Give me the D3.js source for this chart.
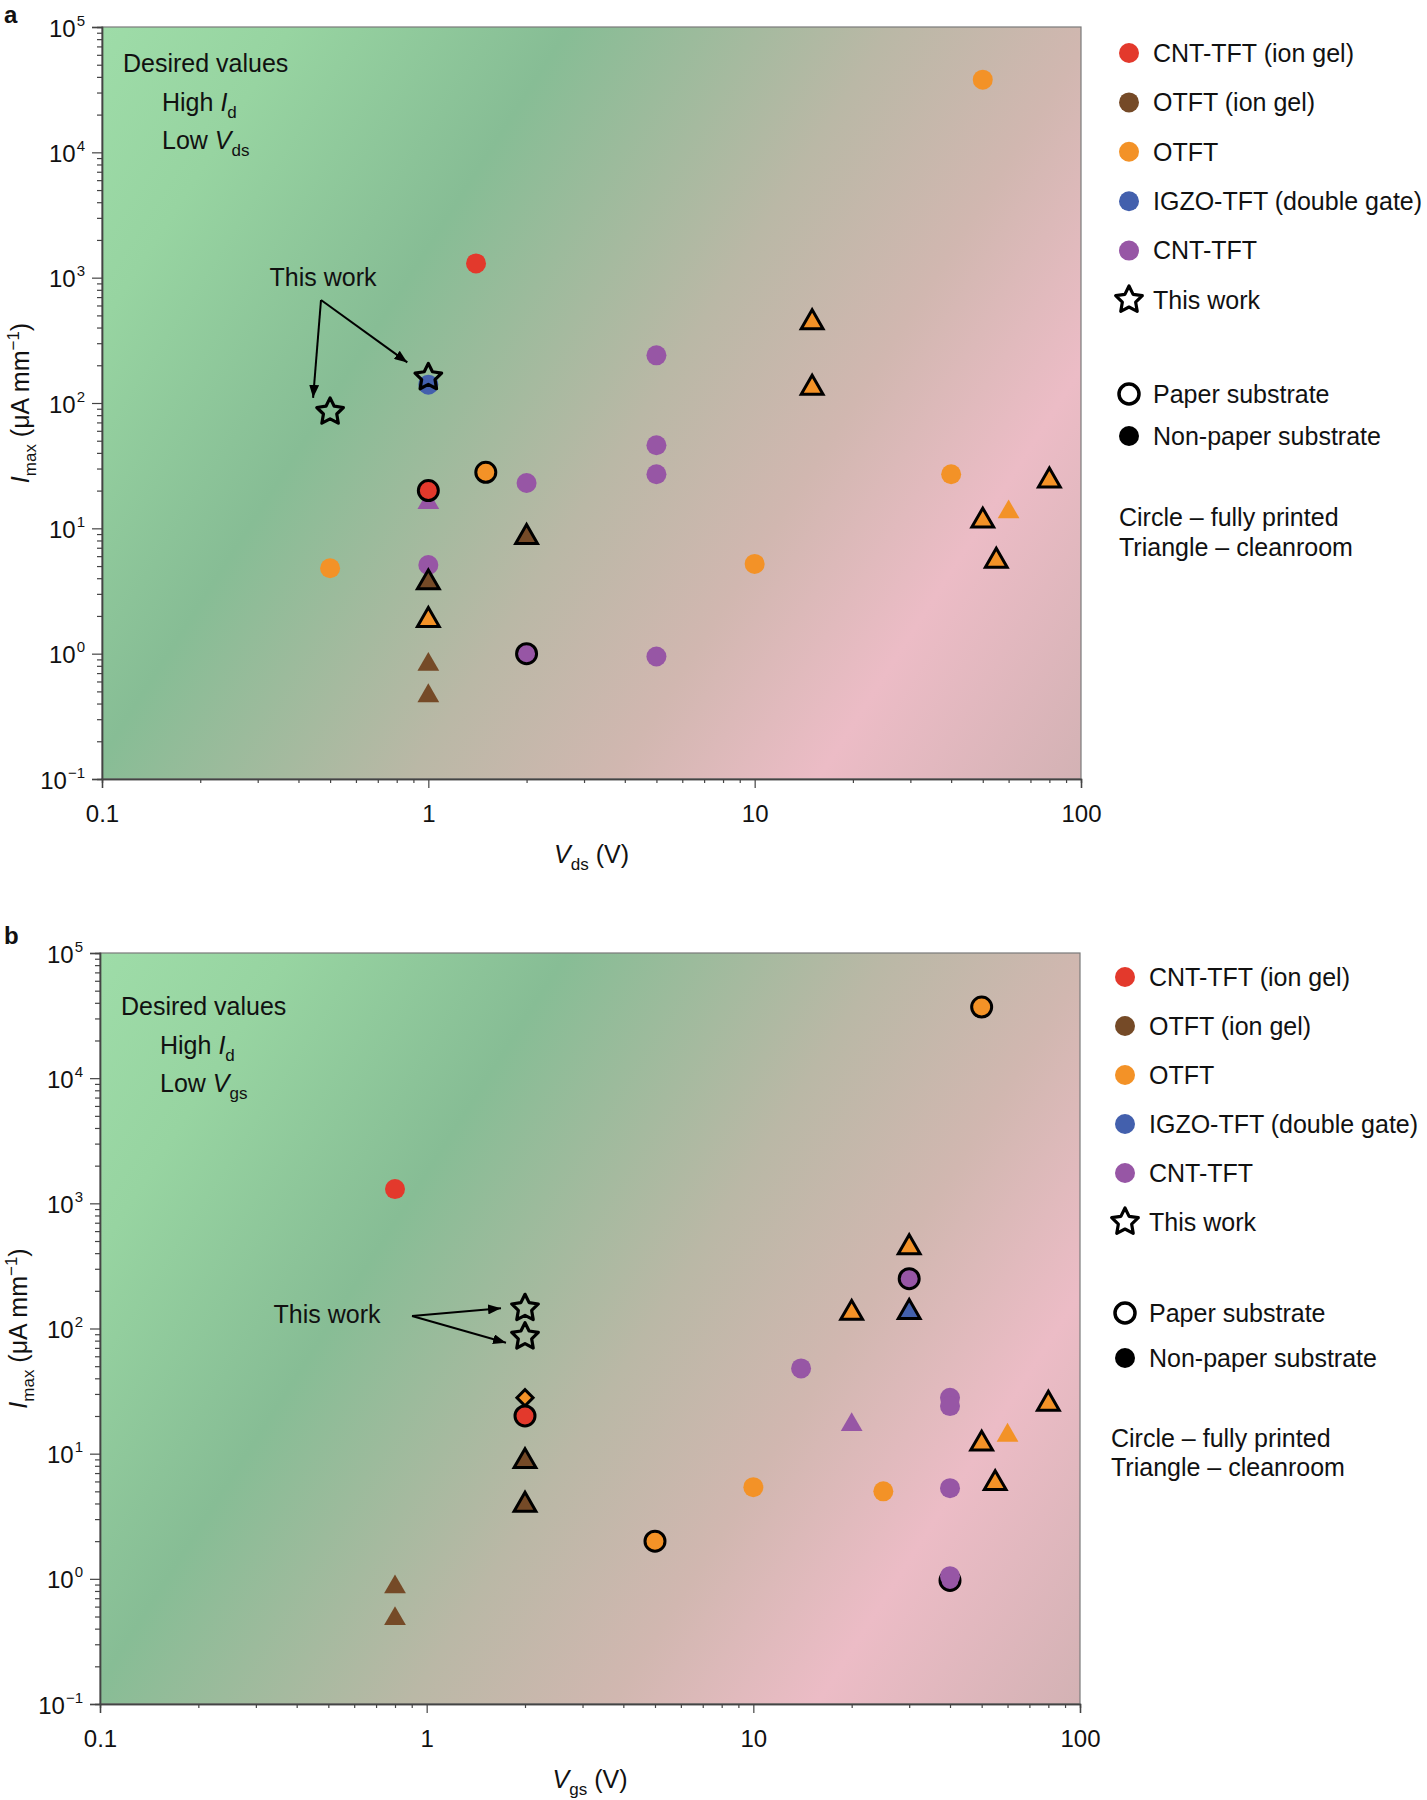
<!DOCTYPE html>
<html>
<head>
<meta charset="utf-8">
<script src="https://cdn.jsdelivr.net/npm/d3@7"></script>
<style>
  body { margin: 0; background: #fff; }
  svg text { font-family: "Liberation Sans", Arial, Helvetica, sans-serif; fill: #111; }
</style>
</head>
<body>
<svg id="fig" width="1427" height="1800"></svg>
<script>
// categories and colours
const groups = ["CNT-TFT (ion gel)", "OTFT (ion gel)", "OTFT", "IGZO-TFT (double gate)", "CNT-TFT"];
const groupColors = ["#e3392c", "#754a27", "#f39227", "#4360ad", "#9756a5"];
const xTicks = [0.1, 1, 10, 100];
const yTicks = [0.1, 1, 10, 100, 1000, 10000, 100000];

// [V, Imax, group index, shape (c circle / t triangle / d diamond), paper substrate]
const pointsA = [
  [1.4, 1300, 0, "c", 0],
  [1, 140, 3, "c", 0],
  [1.5, 28, 2, "c", 1],
  [2, 23, 4, "c", 0],
  [1, 16, 4, "t", 0],
  [1, 20, 0, "c", 1],
  [2, 8.5, 1, "t", 1],
  [0.5, 4.8, 2, "c", 0],
  [1, 5.1, 4, "c", 0],
  [1, 3.7, 1, "t", 1],
  [1, 1.85, 2, "t", 1],
  [2, 1.0, 4, "c", 1],
  [1, 0.82, 1, "t", 0],
  [1, 0.46, 1, "t", 0],
  [5, 240, 4, "c", 0],
  [5, 46, 4, "c", 0],
  [5, 27, 4, "c", 0],
  [5, 0.95, 4, "c", 0],
  [10, 5.2, 2, "c", 0],
  [15, 440, 2, "t", 1],
  [15, 132, 2, "t", 1],
  [40, 27, 2, "c", 0],
  [50, 38000, 2, "c", 0],
  [50, 11.5, 2, "t", 1],
  [55, 5.5, 2, "t", 1],
  [60, 13.5, 2, "t", 0],
  [80, 24, 2, "t", 1]
];
const starsA = [[0.5, 85], [1, 160]];

const pointsB = [
  [0.8, 1300, 0, "c", 0],
  [0.8, 0.86, 1, "t", 0],
  [0.8, 0.48, 1, "t", 0],
  [2, 28, 2, "d", 1],
  [2, 20, 0, "c", 1],
  [2, 8.7, 1, "t", 1],
  [2, 3.9, 1, "t", 1],
  [5, 2.0, 2, "c", 1],
  [10, 5.4, 2, "c", 0],
  [14, 48, 4, "c", 0],
  [20, 133, 2, "t", 1],
  [20, 17, 4, "t", 0],
  [25, 5, 2, "c", 0],
  [30, 445, 2, "t", 1],
  [30, 250, 4, "c", 1],
  [30, 135, 3, "t", 1],
  [40, 28, 4, "c", 0],
  [40, 24, 4, "c", 0],
  [40, 5.3, 4, "c", 0],
  [40, 0.97, 4, "c", 1],
  [40, 1.05, 4, "c", 0],
  [50, 37000, 2, "c", 1],
  [50, 12, 2, "t", 1],
  [55, 5.8, 2, "t", 1],
  [60, 14, 2, "t", 0],
  [80, 25, 2, "t", 1]
];
const starsB = [[2, 145], [2, 86]];

// background wash: light green -> green -> beige -> pink -> dusty pink
const bgStops = [[0, "#9edca8"], [0.13, "#97d4a1"], [0.32, "#87bd95"], [0.54, "#bab8a6"],
                 [0.68, "#d1b7b0"], [0.82, "#ecbcc6"], [1, "#d3b2b4"]];

const svg = d3.select("#fig");
const defs = svg.append("defs");

defs.append("marker")
    .attr("id", "arrowhead")
    .attr("viewBox", "0 0 13 10")
    .attr("refX", 13).attr("refY", 5)
    .attr("markerWidth", 13).attr("markerHeight", 10)
    .attr("markerUnits", "userSpaceOnUse")
    .attr("orient", "auto")
  .append("path")
    .attr("d", "M0,0 L13,5 L0,10 z")
    .attr("fill", "#000");

// chunky five point star, size = outer radius squared
const fatStar = {
    draw(context, size) {
        const R = Math.sqrt(size), r = R * 0.5;
        for (let i = 0; i < 10; i++) {
            const a = -Math.PI / 2 + i * Math.PI / 5;
            const rad = i % 2 ? r : R;
            if (i === 0) context.moveTo(rad * Math.cos(a), rad * Math.sin(a));
            else context.lineTo(rad * Math.cos(a), rad * Math.sin(a));
        }
        context.closePath();
    }
};

const symbolTypes = {c: d3.symbolCircle, t: d3.symbolTriangle, d: d3.symbolSquare};
const symbolSizes = {c: 314, t: 205, d: 130};

const isDecade = v => Math.abs(Math.log10(v) - Math.round(Math.log10(v))) < 1e-6;

function drawPanel(cfg, points, stars) {
    const x = d3.scaleLog().domain([0.1, 100]).range([cfg.left, cfg.right]);
    const y = d3.scaleLog().domain([0.1, 100000]).range([cfg.bottom, cfg.top]);
    const g = svg.append("g");
    const W = cfg.right - cfg.left, H = cfg.bottom - cfg.top;

    // diagonal gradient background
    const k = 0.64;
    const s = (W + k * H) / (1 + k * k);
    const grad = defs.append("linearGradient")
        .attr("id", "bg" + cfg.id)
        .attr("gradientUnits", "userSpaceOnUse")
        .attr("x1", cfg.left).attr("y1", cfg.top)
        .attr("x2", cfg.left + s).attr("y2", cfg.top + k * s);
    grad.selectAll("stop").data(bgStops).enter().append("stop")
        .attr("offset", d => d[0])
        .attr("stop-color", d => d[1]);

    g.append("rect")
        .attr("x", cfg.left).attr("y", cfg.top)
        .attr("width", W).attr("height", H)
        .attr("fill", "url(#bg" + cfg.id + ")")
        .attr("stroke", "#7a7a7a")
        .attr("stroke-width", 1.2);

    // axes
    const yMinor = y.ticks().filter(v => !isDecade(v));
    const xMinor = x.ticks().filter(v => !isDecade(v));

    const yMin = g.append("g").attr("transform", "translate(" + cfg.left + ",0)")
        .call(d3.axisLeft(y).tickValues(yMinor).tickSize(5).tickFormat(""));
    const yMaj = g.append("g").attr("transform", "translate(" + cfg.left + ",0)")
        .call(d3.axisLeft(y).tickValues(yTicks).tickSize(10).tickPadding(8).tickFormat(() => ""));
    const xMin = g.append("g").attr("transform", "translate(0," + cfg.bottom + ")")
        .call(d3.axisBottom(x).tickValues(xMinor).tickSize(4).tickFormat(""));
    const xMaj = g.append("g").attr("transform", "translate(0," + cfg.bottom + ")")
        .call(d3.axisBottom(x).tickValues(xTicks).tickSize(9).tickFormat(d3.format("~g")));

    [yMin, yMaj, xMin, xMaj].forEach(a => {
        a.select(".domain").attr("stroke", "#444").attr("stroke-width", 1.4);
        a.selectAll(".tick line").attr("stroke", "#444").attr("stroke-width", 1.2);
    });

    yMaj.selectAll(".tick text").each(function(d) {
        const t = d3.select(this)
            .attr("x", -17).attr("dy", "0.38em")
            .style("font-size", "24px").attr("fill", "#111");
        t.append("tspan").text("10");
        t.append("tspan")
            .attr("dy", -11).attr("dx", 1)
            .style("font-size", "15px")
            .text(String(Math.round(Math.log10(d))).replace("-", "\u2212"));
    });
    xMaj.selectAll(".tick text")
        .attr("y", 43).attr("dy", 0)
        .style("font-size", "24px").attr("fill", "#111");

    // axis titles
    const xt = g.append("text")
        .attr("x", (cfg.left + cfg.right) / 2)
        .attr("y", cfg.bottom + 84)
        .attr("text-anchor", "middle")
        .style("font-size", "25px");
    xt.append("tspan").attr("font-style", "italic").text("V");
    xt.append("tspan").attr("dy", 7).style("font-size", "17px").text(cfg.xSub);
    xt.append("tspan").attr("dy", -7).text(" (V)");

    const yt = g.append("text")
        .attr("transform", "translate(" + (cfg.left - 73) + "," + ((cfg.top + cfg.bottom) / 2) + ") rotate(-90)")
        .attr("text-anchor", "middle")
        .style("font-size", "25px");
    yt.append("tspan").attr("font-style", "italic").text("I");
    yt.append("tspan").attr("dy", 7).style("font-size", "17px").text("max");
    yt.append("tspan").attr("dy", -7).text(" (\u03bcA mm");
    yt.append("tspan").attr("dy", -10).style("font-size", "17px").text("\u22121");
    yt.append("tspan").attr("dy", 10).text(")");

    // panel letter
    g.append("text")
        .attr("x", 4).attr("y", cfg.letterY)
        .style("font-size", "24px").style("font-weight", "bold")
        .text(cfg.id);

    // desired values note
    const nx = cfg.left + 21;
    g.append("text").attr("x", nx).attr("y", cfg.noteY)
        .style("font-size", "25px").text("Desired values");
    const hi = g.append("text").attr("x", nx + 39).attr("y", cfg.noteY + 39).style("font-size", "25px");
    hi.append("tspan").text("High ");
    hi.append("tspan").attr("font-style", "italic").text("I");
    hi.append("tspan").attr("dy", 7).style("font-size", "17px").text("d");
    const lo = g.append("text").attr("x", nx + 39).attr("y", cfg.noteY + 77).style("font-size", "25px");
    lo.append("tspan").text("Low ");
    lo.append("tspan").attr("font-style", "italic").text("V");
    lo.append("tspan").attr("dy", 7).style("font-size", "17px").text(cfg.xSub);

    // data points
    g.append("g").selectAll("path")
        .data(points)
        .enter().append("path")
        .attr("d", d => d3.symbol().type(symbolTypes[d[3]]).size(symbolSizes[d[3]])())
        .attr("transform", d => "translate(" + x(d[0]) + "," + y(d[1]) + ")" + (d[3] === "d" ? " rotate(45)" : ""))
        .attr("fill", d => groupColors[d[2]])
        .attr("stroke", d => d[4] ? "#000" : "none")
        .attr("stroke-width", 3);

    g.append("g").selectAll("path")
        .data(stars)
        .enter().append("path")
        .attr("d", d3.symbol().type(fatStar).size(196)())
        .attr("transform", d => "translate(" + x(d[0]) + "," + y(d[1]) + ")")
        .attr("fill", "none")
        .attr("stroke", "#000")
        .attr("stroke-width", 3.2)
        .attr("stroke-linejoin", "round");

    // "This work" annotation
    g.append("text")
        .attr("x", cfg.noteWork[0]).attr("y", cfg.noteWork[1])
        .attr("text-anchor", "middle")
        .style("font-size", "25px")
        .text("This work");
    stars.forEach((st, i) => {
        g.append("line")
            .attr("x1", cfg.arrowFrom[0]).attr("y1", cfg.arrowFrom[1])
            .attr("x2", x(st[0]) + cfg.arrowTip[i][0])
            .attr("y2", y(st[1]) + cfg.arrowTip[i][1])
            .attr("stroke", "#000")
            .attr("stroke-width", 2)
            .attr("marker-end", "url(#arrowhead)");
    });

    // legend
    const lg = g.append("g");
    const itemY = i => cfg.legendY + i * cfg.legendStep;
    groups.forEach((name, i) => {
        lg.append("circle").attr("cx", cfg.legendX).attr("cy", itemY(i)).attr("r", 10)
            .attr("fill", groupColors[i]);
        lg.append("text").attr("x", cfg.legendX + 24).attr("y", itemY(i)).attr("dy", "0.35em")
            .style("font-size", "25px").text(name);
    });
    lg.append("path")
        .attr("d", d3.symbol().type(fatStar).size(196)())
        .attr("transform", "translate(" + cfg.legendX + "," + itemY(5) + ")")
        .attr("fill", "none").attr("stroke", "#000").attr("stroke-width", 3.2)
        .attr("stroke-linejoin", "round");
    lg.append("text").attr("x", cfg.legendX + 24).attr("y", itemY(5)).attr("dy", "0.35em")
        .style("font-size", "25px").text("This work");

    lg.append("circle").attr("cx", cfg.legendX).attr("cy", cfg.substrateY[0]).attr("r", 10)
        .attr("fill", "none").attr("stroke", "#000").attr("stroke-width", 3.5);
    lg.append("text").attr("x", cfg.legendX + 24).attr("y", cfg.substrateY[0]).attr("dy", "0.35em")
        .style("font-size", "25px").text("Paper substrate");
    lg.append("circle").attr("cx", cfg.legendX).attr("cy", cfg.substrateY[1]).attr("r", 10)
        .attr("fill", "#000");
    lg.append("text").attr("x", cfg.legendX + 24).attr("y", cfg.substrateY[1]).attr("dy", "0.35em")
        .style("font-size", "25px").text("Non-paper substrate");

    lg.append("text").attr("x", cfg.shapeX).attr("y", cfg.shapeY[0]).attr("dy", "0.35em")
        .style("font-size", "25px").text("Circle \u2013 fully printed");
    lg.append("text").attr("x", cfg.shapeX).attr("y", cfg.shapeY[1]).attr("dy", "0.35em")
        .style("font-size", "25px").text("Triangle \u2013 cleanroom");
}

drawPanel({
    id: "a", xSub: "ds",
    left: 102, right: 1081, top: 27, bottom: 779,
    letterY: 23, noteY: 72,
    noteWork: [323, 286], arrowFrom: [321, 300],
    arrowTip: [[-17, -14], [-21, -15]],
    legendX: 1129, legendY: 53, legendStep: 49.4,
    substrateY: [394, 436], shapeX: 1119, shapeY: [517, 547]
}, pointsA, starsA);

drawPanel({
    id: "b", xSub: "gs",
    left: 100, right: 1080, top: 953, bottom: 1704,
    letterY: 944, noteY: 1015,
    noteWork: [327, 1323], arrowFrom: [412, 1316],
    arrowTip: [[-24, 0], [-19, 6]],
    legendX: 1125, legendY: 977, legendStep: 49,
    substrateY: [1313, 1358], shapeX: 1111, shapeY: [1438, 1467]
}, pointsB, starsB);
</script>
</body>
</html>
